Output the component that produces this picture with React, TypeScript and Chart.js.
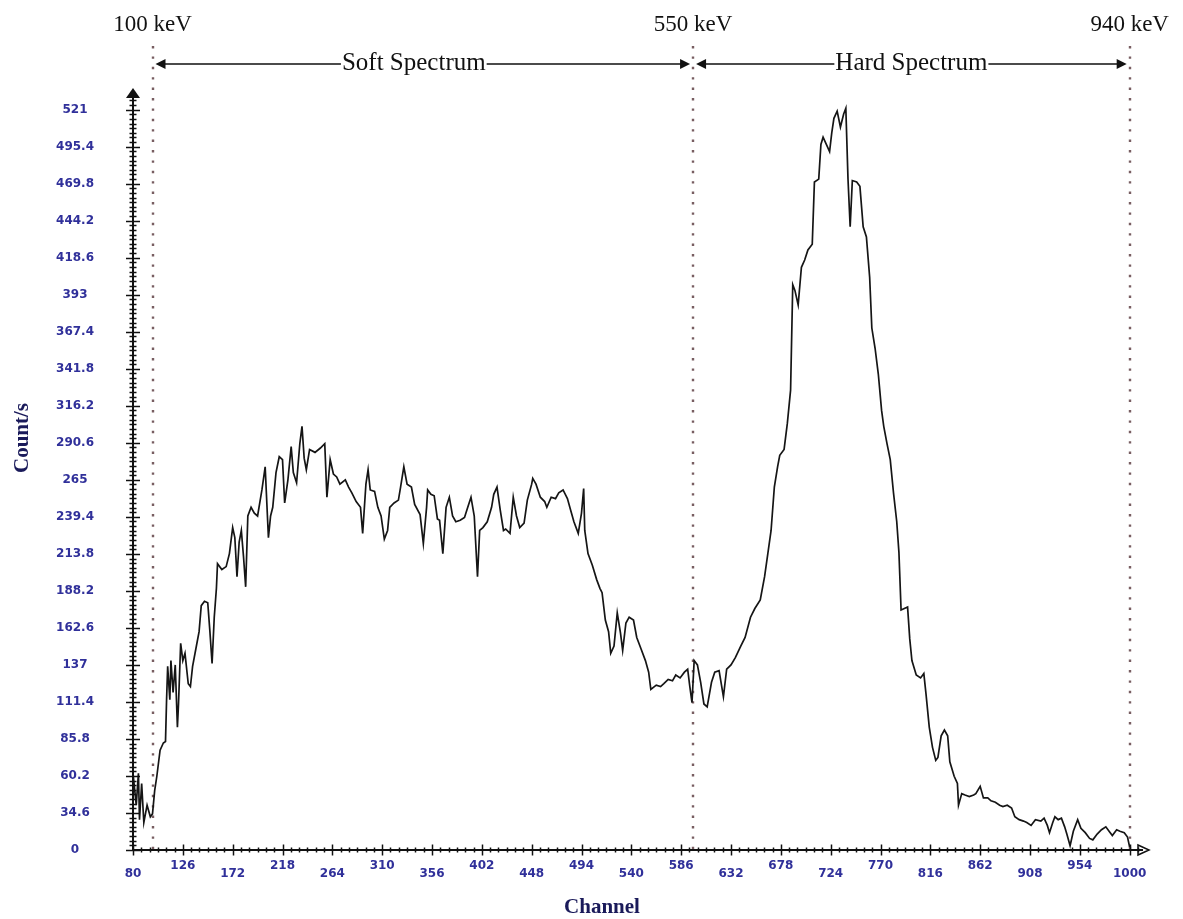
import React, { useEffect, useRef } from 'react';
import { Chart, registerables } from 'chart.js';

Chart.register(...registerables);

// Channel numbers of the traced points
const channels = [
  80, 83, 85, 86, 88, 90, 93, 96, 98, 100,
  102, 105, 108, 110, 111, 112, 114, 115, 117, 119,
  121, 122, 124, 126, 128, 131, 133, 135, 138, 141,
  143, 146, 149, 151, 153, 155, 157, 158, 162, 166,
  169, 170, 172, 174, 176, 178, 180, 182, 184, 186,
  189, 192, 195, 199, 202, 205, 207, 209, 212, 215,
  218, 220, 223, 226, 228, 231, 234, 236, 238, 240,
  243, 248, 253, 257, 259, 262, 265, 268, 271, 276,
  279, 282, 286, 290, 292, 295, 297, 299, 303, 306,
  309, 312, 315, 317, 321, 325, 327, 330, 333, 337,
  340, 345, 348, 351, 352, 355, 358, 361, 363, 366,
  369, 372, 375, 378, 382, 386, 389, 392, 395, 398,
  400, 403, 407, 411, 413, 416, 419, 422, 424, 428,
  431, 434, 437, 441, 444, 448, 449, 452, 456, 460,
  462, 466, 470, 473, 477, 481, 484, 487, 491, 494,
  496, 497, 500, 504, 508, 511, 513, 516, 519, 521,
  524, 527, 530, 532, 535, 538, 542, 545, 549, 553,
  556, 558, 563, 567, 570, 574, 578, 581, 585, 589,
  592, 594, 596, 598, 601, 604, 607, 610, 614, 617,
  621, 625, 628, 632, 636, 641, 645, 650, 654, 659,
  663, 666, 669, 672, 675, 677, 681, 684, 687, 689,
  691, 694, 697, 700, 703, 707, 709, 713, 715, 717,
  720, 723, 725, 727, 730, 733, 736, 738, 740, 742,
  744, 748, 751, 754, 757, 760, 762, 765, 768, 771,
  773, 776, 779, 782, 785, 787, 789, 792, 795, 797,
  799, 803, 807, 810, 812, 815, 818, 821, 823, 826,
  829, 832, 834, 838, 841, 842, 845, 848, 852, 856,
  858, 862, 865, 869, 872, 876, 880, 883, 887, 891,
  894, 898, 902, 905, 909, 913, 918, 921, 924, 926,
  929, 931, 934, 937, 940, 942, 945, 948, 952, 955,
  959, 963, 966, 970, 974, 978, 981, 984, 988, 991,
  995, 998, 1000,
];

// Count rate (Count/s) at each channel
const counts = [
  62, 40, 62, 30, 55, 28, 40, 32, 34, 50,
  60, 78, 83, 84, 113, 136, 113, 140, 118, 137,
  94, 110, 152, 140, 145, 124, 122, 136, 148, 160,
  178, 181, 180, 160, 138, 170, 190, 207, 203, 205,
  214, 220, 232, 225, 198, 222, 230, 212, 191, 240,
  246, 242, 240, 258, 274, 225, 240, 246, 270, 281,
  279, 249, 265, 288, 270, 263, 290, 302, 280, 272,
  286, 284, 287, 290, 253, 279, 269, 267, 262, 265,
  260, 256, 250, 246, 228, 262, 272, 258, 257, 246,
  240, 224, 230, 246, 249, 251, 260, 274, 262, 260,
  248, 241, 221, 246, 258, 255, 254, 238, 237, 214,
  246, 253, 240, 236, 237, 239, 246, 253, 240, 198,
  230, 232, 236, 246, 255, 260, 244, 230, 231, 228,
  253, 240, 232, 235, 251, 262, 266, 262, 253, 250,
  246, 253, 252, 256, 258, 252, 244, 236, 228, 242,
  259, 230, 214, 206, 196, 190, 187, 168, 160, 145,
  150, 173, 159, 147, 166, 170, 168, 156, 148, 140,
  132, 120, 123, 122, 124, 127, 126, 130, 128, 132,
  134, 122, 111, 140, 137, 125, 110, 108, 125, 132,
  133, 115, 134, 137, 142, 150, 156, 170, 176, 182,
  198, 214, 230, 260, 274, 282, 286, 304, 327, 400,
  396, 386, 412, 417, 424, 428, 471, 473, 497, 502,
  497, 492, 505, 515, 520, 509, 518, 522, 473, 440,
  472, 471, 468, 440, 433, 405, 370, 356, 338, 313,
  302, 290, 279, 256, 236, 215, 175, 176, 177, 155,
  140, 130, 128, 131, 117, 94, 80, 71, 73, 88,
  92, 88, 70, 60, 55, 40, 48, 47, 46, 47,
  48, 53, 45, 45, 43, 42, 40, 39, 40, 38,
  32, 30, 29, 28, 26, 30, 29, 31, 26, 21,
  28, 32, 30, 31, 25, 20, 12, 22, 30, 24,
  21, 17, 16, 20, 23, 25, 22, 19, 23, 22,
  21, 18, 11,
];

const xTickValues = [80, 126, 172, 218, 264, 310, 356, 402, 448, 494, 540, 586, 632, 678, 724, 770, 816, 862, 908, 954, 1000];
const xTickLabels = ['80', '126', '172', '218', '264', '310', '356', '402', '448', '494', '540', '586', '632', '678', '724', '770', '816', '862', '908', '954', '1000'];
const yTickValues = [9, 34.6, 60.2, 85.8, 111.4, 137, 162.6, 188.2, 213.8, 239.4, 265, 290.6, 316.2, 341.8, 367.4, 393, 418.6, 444.2, 469.8, 495.4, 521];
const yTickLabels = ['0', '34.6', '60.2', '85.8', '111.4', '137', '162.6', '188.2', '213.8', '239.4', '265', '290.6', '316.2', '341.8', '367.4', '393', '418.6', '444.2', '469.8', '495.4', '521'];

const markerChannels = [98, 597, 1000];
const markerLabels = ['100 keV', '550 keV', '940 keV'];
const regionLabels = ['Soft Spectrum', 'Hard Spectrum'];
const regionTextShift = [-9, 0];

const X_MIN = 80;
const X_MAX = 1016;
const Y_MIN = 9;
const Y_MAX = 536;

const SERIF = '"Liberation Serif", "Times New Roman", serif';

const decorPlugin = {
  id: 'decor',
  beforeDatasetsDraw(chart: any) {
    const { ctx } = chart;
    const xs = chart.scales.x;
    const ys = chart.scales.y;
    ctx.save();
    ctx.strokeStyle = 'rgba(105,75,80,0.9)';
    ctx.lineWidth = 2.4;
    ctx.setLineDash([2.4, 8]);
    markerChannels.forEach((c) => {
      const px = Math.round(xs.getPixelForValue(c));
      ctx.beginPath();
      ctx.moveTo(px, 46);
      ctx.lineTo(px, ys.bottom);
      ctx.stroke();
    });
    ctx.restore();
  },
  afterDraw(chart: any) {
    const { ctx } = chart;
    const xs = chart.scales.x;
    const ys = chart.scales.y;
    const x0 = xs.left;
    const xr = xs.right;
    const yb = ys.bottom;
    const yt = ys.top;
    ctx.save();
    ctx.strokeStyle = '#111';
    ctx.fillStyle = '#111';
    ctx.setLineDash([]);

    // y axis with arrow
    ctx.lineWidth = 2;
    ctx.beginPath();
    ctx.moveTo(x0, yb + 1);
    ctx.lineTo(x0, yt + 9);
    ctx.stroke();
    ctx.beginPath();
    ctx.moveTo(x0, yt);
    ctx.lineTo(x0 - 7, yt + 10);
    ctx.lineTo(x0 + 7, yt + 10);
    ctx.closePath();
    ctx.fill();

    // x axis with open arrow
    ctx.beginPath();
    ctx.moveTo(x0 - 1, yb);
    ctx.lineTo(xr - 4, yb);
    ctx.stroke();
    ctx.lineWidth = 1.5;
    ctx.beginPath();
    ctx.moveTo(xr - 9, yb - 5);
    ctx.lineTo(xr + 2, yb);
    ctx.lineTo(xr - 9, yb + 5);
    ctx.closePath();
    ctx.stroke();

    // y ticks
    ctx.lineWidth = 1.5;
    for (let k = 0; ; k++) {
      const v = Y_MIN + k * 3.2;
      if (v > Y_MAX - 8) break;
      const py = Math.round(ys.getPixelForValue(v)) + 0.5;
      const half = k % 8 === 0 ? 7 : 3.5;
      ctx.beginPath();
      ctx.moveTo(x0 - half, py);
      ctx.lineTo(x0 + half, py);
      ctx.stroke();
    }
    // x ticks
    for (let k = 0; ; k++) {
      const v = X_MIN + (k * 46) / 6;
      if (v > X_MAX - 6) break;
      const px = Math.round(xs.getPixelForValue(v)) + 0.5;
      const half = k % 6 === 0 ? 5.5 : 2.5;
      ctx.beginPath();
      ctx.moveTo(px, yb - half);
      ctx.lineTo(px, yb + half);
      ctx.stroke();
    }

    // keV labels
    ctx.font = `23px ${SERIF}`;
    ctx.textAlign = 'center';
    ctx.textBaseline = 'middle';
    const mx = markerChannels.map((c) => xs.getPixelForValue(c));
    markerLabels.forEach((t, i) => {
      ctx.fillText(t, mx[i], 25);
    });

    // spectrum range arrows
    const ay = 64;
    ctx.font = `25px ${SERIF}`;
    regionLabels.forEach((t, i) => {
      const a = mx[i] + 3;
      const b = mx[i + 1] - 3;
      const cx = (mx[i] + mx[i + 1]) / 2 + regionTextShift[i];
      const w = ctx.measureText(t).width;
      ctx.fillText(t, cx, ay - 1);
      ctx.lineWidth = 1.4;
      ctx.beginPath();
      ctx.moveTo(a + 6, ay);
      ctx.lineTo(cx - w / 2 - 1, ay);
      ctx.moveTo(cx + w / 2 + 1, ay);
      ctx.lineTo(b - 6, ay);
      ctx.stroke();
      ctx.beginPath();
      ctx.moveTo(a, ay);
      ctx.lineTo(a + 10, ay - 5);
      ctx.lineTo(a + 10, ay + 5);
      ctx.closePath();
      ctx.fill();
      ctx.beginPath();
      ctx.moveTo(b, ay);
      ctx.lineTo(b - 10, ay - 5);
      ctx.lineTo(b - 10, ay + 5);
      ctx.closePath();
      ctx.fill();
    });

    // axis titles
    ctx.fillStyle = '#1a1a5a';
    ctx.font = `bold 21px ${SERIF}`;
    ctx.fillText('Channel', 602, 908);
    ctx.save();
    ctx.translate(23, 438);
    ctx.rotate(-Math.PI / 2);
    ctx.fillText('Count/s', 0, 0);
    ctx.restore();

    ctx.restore();
  },
};

export default function App() {
  const canvasRef = useRef<HTMLCanvasElement | null>(null);

  useEffect(() => {
    document.body.style.margin = '0';
    const canvas = canvasRef.current;
    if (!canvas) return;
    const chart = new Chart(canvas, {
      type: 'line',
      data: {
        datasets: [
          {
            data: channels.map((c, i) => ({ x: c, y: counts[i] })),
            borderColor: '#151515',
            borderWidth: 1.7,
            pointRadius: 0,
            tension: 0,
            fill: false,
          },
        ],
      },
      options: {
        animation: false,
        responsive: false,
        devicePixelRatio: 1,
        layout: { padding: { left: 0, right: 36, top: 88, bottom: 0 } },
        plugins: {
          legend: { display: false },
          tooltip: { enabled: false },
        },
        scales: {
          x: {
            type: 'linear',
            min: X_MIN,
            max: X_MAX,
            grid: { display: false, drawTicks: false },
            border: { display: false },
            afterBuildTicks: (scale: any) => {
              scale.ticks = xTickValues.map((v) => ({ value: v }));
            },
            afterFit: (scale: any) => {
              scale.height = 69;
            },
            ticks: {
              autoSkip: false,
              maxRotation: 0,
              minRotation: 0,
              padding: 12,
              color: '#30309a',
              font: { family: '"DejaVu Sans", sans-serif', size: 12, weight: 'bold', lineHeight: '8px' as any },
              callback: (_v: any, i: number) => (i % 2 === 0 ? ['', xTickLabels[i]] : xTickLabels[i]),
            },
          },
          y: {
            type: 'linear',
            min: Y_MIN,
            max: Y_MAX,
            grid: { display: false, drawTicks: false },
            border: { display: false },
            afterBuildTicks: (scale: any) => {
              scale.ticks = yTickValues.map((v) => ({ value: v }));
            },
            afterFit: (scale: any) => {
              scale.width = 133;
            },
            ticks: {
              autoSkip: false,
              crossAlign: 'center',
              padding: 39,
              color: '#30309a',
              font: { family: '"DejaVu Sans", sans-serif', size: 12, weight: 'bold' },
              callback: (_v: any, i: number) => yTickLabels[i],
            },
          },
        },
      },
      plugins: [decorPlugin],
    });
    return () => chart.destroy();
  }, []);

  return (
    <canvas
      ref={canvasRef}
      width={1183}
      height={919}
      style={{ display: 'block', width: 1183, height: 919 }}
    />
  );
}
